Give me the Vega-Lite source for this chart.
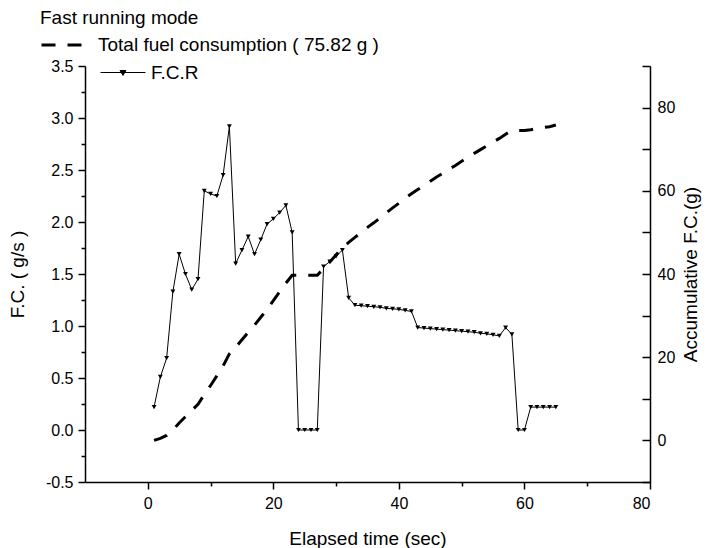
{
  "$schema": "https://vega.github.io/schema/vega-lite/v6.json",
  "width": 565,
  "height": 416,
  "autosize": {"type": "none"},
  "padding": {"left": 85, "top": 66, "right": 57, "bottom": 66},
  "background": "white",
  "config": {
    "view": {"stroke": null},
    "font": "Liberation Sans",
    "axis": {
      "grid": false,
      "domainColor": "black",
      "domainWidth": 1.5,
      "tickColor": "black",
      "tickWidth": 1.5,
      "labelColor": "black",
      "titleColor": "black",
      "labelFont": "Liberation Sans",
      "titleFont": "Liberation Sans",
      "labelFontSize": 16,
      "titleFontSize": 19,
      "titleFontWeight": "normal"
    },
    "legend": {
      "labelFont": "Liberation Sans",
      "titleFont": "Liberation Sans",
      "labelColor": "black",
      "titleColor": "black",
      "labelLimit": 500,
      "titleLimit": 500
    }
  },
  "data": {
    "values": [
      {"t": 1, "fcr": 0.22, "total": 0.0},
      {"t": 2, "fcr": 0.51, "total": 0.5},
      {"t": 3, "fcr": 0.69, "total": 1.2},
      {"t": 4, "fcr": 1.33, "total": 2.5},
      {"t": 5, "fcr": 1.69, "total": 4.2},
      {"t": 6, "fcr": 1.5, "total": 5.7},
      {"t": 7, "fcr": 1.35, "total": 7.2},
      {"t": 8, "fcr": 1.45, "total": 8.7},
      {"t": 9, "fcr": 2.3, "total": 11.0},
      {"t": 10, "fcr": 2.27, "total": 13.2},
      {"t": 11, "fcr": 2.25, "total": 15.5},
      {"t": 12, "fcr": 2.45, "total": 17.9},
      {"t": 13, "fcr": 2.92, "total": 20.8},
      {"t": 14, "fcr": 1.6, "total": 22.4},
      {"t": 15, "fcr": 1.73, "total": 24.2},
      {"t": 16, "fcr": 1.86, "total": 26.0},
      {"t": 17, "fcr": 1.69, "total": 27.7},
      {"t": 18, "fcr": 1.83, "total": 29.6},
      {"t": 19, "fcr": 1.98, "total": 31.5},
      {"t": 20, "fcr": 2.03, "total": 33.6},
      {"t": 21, "fcr": 2.09, "total": 35.7},
      {"t": 22, "fcr": 2.16, "total": 37.8},
      {"t": 23, "fcr": 1.9, "total": 39.7},
      {"t": 24, "fcr": 0.0, "total": 39.7},
      {"t": 25, "fcr": 0.0, "total": 39.7},
      {"t": 26, "fcr": 0.0, "total": 39.7},
      {"t": 27, "fcr": 0.0, "total": 39.7},
      {"t": 28, "fcr": 1.57, "total": 41.3},
      {"t": 29, "fcr": 1.62, "total": 42.9},
      {"t": 30, "fcr": 1.67, "total": 44.6},
      {"t": 31, "fcr": 1.73, "total": 46.3},
      {"t": 32, "fcr": 1.27, "total": 47.6},
      {"t": 33, "fcr": 1.2, "total": 48.8},
      {"t": 34, "fcr": 1.195, "total": 50.0},
      {"t": 35, "fcr": 1.19, "total": 51.2},
      {"t": 36, "fcr": 1.185, "total": 52.3},
      {"t": 37, "fcr": 1.18, "total": 53.5},
      {"t": 38, "fcr": 1.17, "total": 54.7},
      {"t": 39, "fcr": 1.165, "total": 55.9},
      {"t": 40, "fcr": 1.16, "total": 57.0},
      {"t": 41, "fcr": 1.15, "total": 58.2},
      {"t": 42, "fcr": 1.14, "total": 59.3},
      {"t": 43, "fcr": 0.985, "total": 60.3},
      {"t": 44, "fcr": 0.98, "total": 61.3},
      {"t": 45, "fcr": 0.975, "total": 62.3},
      {"t": 46, "fcr": 0.97, "total": 63.3},
      {"t": 47, "fcr": 0.965, "total": 64.2},
      {"t": 48, "fcr": 0.96, "total": 65.2},
      {"t": 49, "fcr": 0.955, "total": 66.1},
      {"t": 50, "fcr": 0.95, "total": 67.1},
      {"t": 51, "fcr": 0.945, "total": 68.0},
      {"t": 52, "fcr": 0.94, "total": 69.0},
      {"t": 53, "fcr": 0.93, "total": 69.9},
      {"t": 54, "fcr": 0.925, "total": 70.8},
      {"t": 55, "fcr": 0.915, "total": 71.7},
      {"t": 56, "fcr": 0.905, "total": 72.6},
      {"t": 57, "fcr": 0.985, "total": 73.6},
      {"t": 58, "fcr": 0.92, "total": 74.5},
      {"t": 59, "fcr": 0.0, "total": 74.5},
      {"t": 60, "fcr": 0.0, "total": 74.5},
      {"t": 61, "fcr": 0.22, "total": 74.7},
      {"t": 62, "fcr": 0.22, "total": 75.0},
      {"t": 63, "fcr": 0.22, "total": 75.2},
      {"t": 64, "fcr": 0.22, "total": 75.4},
      {"t": 65, "fcr": 0.22, "total": 75.82}
    ]
  },
  "layer": [
    {
      "mark": {
        "type": "line",
        "strokeWidth": 1,
        "point": {"shape": "triangle-down", "filled": true, "size": 24, "color": "black"}
      },
      "encoding": {
        "x": {
          "field": "t",
          "type": "quantitative",
          "scale": {"domain": [-10, 80], "nice": false, "zero": false},
          "axis": {
            "title": "Elapsed time (sec)",
            "values": [0, 10, 20, 30, 40, 50, 60, 70, 80],
            "labelExpr": "datum.value % 20 == 0 ? datum.label : ''",
            "tickSize": 7,
            "tickDash": {"condition": {"test": "datum.value % 20 != 0", "value": [4, 10]}, "value": [10, 0]},
            "labelPadding": 6,
            "titlePadding": 18
          }
        },
        "y": {
          "field": "fcr",
          "type": "quantitative",
          "scale": {"domain": [-0.5, 3.5], "nice": false, "zero": false},
          "axis": {
            "title": "F.C. ( g/s )",
            "values": [-0.5, -0.25, 0, 0.25, 0.5, 0.75, 1, 1.25, 1.5, 1.75, 2, 2.25, 2.5, 2.75, 3, 3.25, 3.5],
            "labelExpr": "abs(datum.value * 2 - round(datum.value * 2)) < 0.001 ? replace(format(datum.value, '.1f'), '\u2212', '-') : ''",
            "tickSize": 7,
            "tickDash": {"condition": {"test": "abs(datum.value * 2 - round(datum.value * 2)) > 0.001", "value": [4, 10]}, "value": [10, 0]},
            "labelPadding": 5,
            "titlePadding": 18
          }
        },
        "color": {
          "datum": "F.C.R",
          "scale": {"range": ["black"]},
          "legend": {
            "title": null,
            "orient": "none",
            "legendX": 15,
            "legendY": -16.5,
            "padding": 0,
            "symbolType": "M-1,0L1,0M-0.13,-0.09L0.13,-0.09L0,0.13Z",
            "symbolSize": 2025,
            "symbolStrokeWidth": 1,
            "symbolStrokeColor": "black",
            "symbolFillColor": "black",
            "labelFontSize": 19,
            "labelOffset": 5
          }
        }
      }
    },
    {
      "mark": {"type": "line", "color": "black", "strokeWidth": 3},
      "encoding": {
        "x": {"field": "t", "type": "quantitative"},
        "y": {
          "field": "total",
          "type": "quantitative",
          "scale": {"domain": [-10, 90], "nice": false, "zero": false},
          "axis": {
            "orient": "right",
            "title": "Accumulative F.C.(g)",
            "titleAngle": -90,
            "titleBaseline": "bottom",
            "values": [-10, 0, 10, 20, 30, 40, 50, 60, 70, 80, 90],
            "labelExpr": "datum.value % 20 == 0 && datum.value >= 0 && datum.value <= 80 ? datum.label : ''",
            "tickSize": -8,
            "labelPadding": 15,
            "titlePadding": 26
          }
        },
        "strokeDash": {
          "datum": "Total fuel consumption ( 75.82 g )",
          "scale": {"range": [[14, 12]]},
          "legend": {
            "title": "Fast running mode",
            "orient": "none",
            "legendX": -45,
            "legendY": -57.5,
            "padding": 0,
            "titleFontSize": 19,
            "titleFontWeight": "normal",
            "titlePadding": -4,
            "symbolType": "stroke",
            "symbolSize": 1600,
            "symbolStrokeWidth": 3,
            "symbolStrokeColor": "black",
            "labelFontSize": 19,
            "labelOffset": 15
          }
        }
      }
    }
  ],
  "resolve": {"scale": {"y": "independent", "color": "independent", "strokeDash": "independent"}}
}
